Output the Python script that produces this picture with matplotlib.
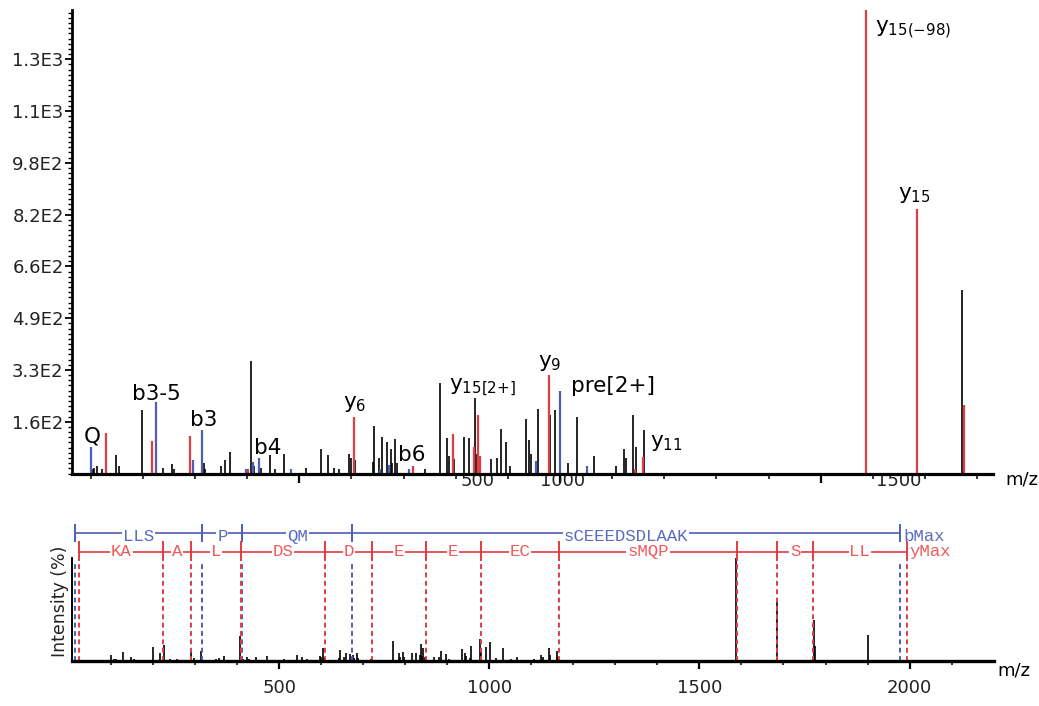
import matplotlib
matplotlib.use('Agg')
import matplotlib.pyplot as plt
from matplotlib.ticker import FixedLocator, MultipleLocator

plt.rcParams['font.family'] = ['DejaVu Sans']
plt.rcParams['mathtext.fontset'] = 'dejavusans'
plt.rcParams['mathtext.default'] = 'regular'

# ---------------- data ----------------
black_mz = [105, 107, 111, 121, 148, 155, 199, 239, 256, 260, 317, 320, 349, 357, 368,
            407, 414, 427, 444, 453, 471, 512, 542, 555, 567, 577, 596, 600, 607,
            641, 644, 653, 659, 669, 676, 678, 684, 687, 742, 770, 784, 787, 797,
            815, 825, 837, 840, 868, 879, 886, 896, 904, 934, 941, 944, 957, 981,
            991, 1015, 1033, 1065, 1107, 1123, 1127, 1141, 1145, 1162, 1772, 1900]
black_int = [13, 18, 23, 13, 58, 23, 200, 18, 29, 15, 32, 13, 23, 42, 69,
             356, 25, 18, 58, 13, 63, 18, 79, 58, 18, 13, 63, 50, 44,
             36, 150, 50, 115, 99, 78, 32, 110, 34, 13, 287, 113, 55, 47,
             115, 113, 240, 63, 47, 50, 142, 99, 23, 174, 105, 63, 205, 185,
             200, 32, 180, 55, 23, 79, 50, 185, 84, 139, 581, 367]
red_mz = [129, 217, 290, 401, 604, 717.5, 794, 836, 843, 847, 978, 1144, 1160, 1587, 1685, 1774]
red_int = [129, 103, 119, 13, 180, 25, 124, 84, 185, 55, 311, 13, 53, 1468, 837, 217]
blue_mz = [100.5, 225, 297, 313.4, 397, 411, 423.5, 484, 655, 672, 710, 954, 1000.6, 1052]
blue_int = [84, 226, 44, 139, 13, 37, 48, 13, 13, 28, 13, 39, 261, 23]

ytick_values = [164, 328, 492, 656, 820, 984, 1148, 1312]
ytick_labels = ['1.6E2', '3.3E2', '4.9E2', '6.6E2', '8.2E2', '9.8E2', '1.1E3', '1.3E3']
top_xlabel_pos = [842.7, 1004, 1650]
top_xlabels = ['500', '1000', '1500']

peak_labels = ['Q', 'b3-5', 'b3', 'b4', 'y$_{6}$', 'b6', 'y$_{15[2{+}]}$', 'y$_{9}$',
               'pre[2+]', 'y$_{11}$', 'y$_{15({-}98)}$', 'y$_{15}$']
peak_label_mz = [102, 225, 316, 440, 607, 715, 788, 980, 1020.5, 1172.6, 1604, 1649]
peak_label_y = [97, 233, 150, 62, 207, 41, 263, 338, 259, 83, 1394, 870]
peak_label_ha = ['center', 'center', 'center', 'center', 'center', 'center', 'left',
                 'center', 'left', 'left', 'left', 'left']

b_bounds = [14, 317, 412, 674, 1977]
b_labels = ['LLS', 'P', 'QM', 'sCEEEDSDLAAK']
y_bounds = [24, 224, 291, 409, 609, 721, 848, 979, 1166, 1589, 1685, 1770, 1993]
y_labels = ['KA', 'A', 'L', 'DS', 'D', 'E', 'E', 'EC', 'sMQP', '', 'S', 'LL']

RED = '#e23c42'
BLUE = '#4d5fb5'
TXT_RED = '#f05a5a'
TXT_BLUE = '#5a6cc0'

W, H = 1039, 706
fig = plt.figure(figsize=(W / 100, H / 100), dpi=100)


def box(l, t, r, b):
    return [l / W, 1 - b / H, (r - l) / W, (b - t) / H]


# ---------------- top panel ----------------
ax1 = fig.add_axes(box(72, 10, 992.7, 473.5))
ax1.vlines(black_mz, 0, black_int, colors='black', lw=1.2)
ax1.vlines(red_mz, 0, red_int, colors=RED, lw=1.6)
ax1.vlines(blue_mz, 0, blue_int, colors=BLUE, lw=1.6)
ax1.set_xlim(64, 1830)
ax1.set_ylim(0, 1468)
for s in ['top', 'right']:
    ax1.spines[s].set_visible(False)
ax1.spines['left'].set_linewidth(2.0)
ax1.spines['bottom'].set_linewidth(2.3)

ax1.yaxis.set_major_locator(FixedLocator(ytick_values))
ax1.set_yticklabels(ytick_labels, fontsize=13, color='#222222')
ax1.yaxis.set_minor_locator(MultipleLocator(16.4))
ax1.tick_params(axis='y', which='major', length=5, width=1.3, pad=1)
ax1.tick_params(axis='y', which='minor', length=3, width=1.0)

ax1.set_xticks(top_xlabel_pos)
ax1.set_xticklabels(top_xlabels, fontsize=13, color='#222222')
ax1.tick_params(axis='x', which='major', length=0, pad=-1)
ax1.xaxis.set_minor_locator(FixedLocator(list(range(100, 1900, 100))))
ax1.tick_params(axis='x', which='minor', length=3.5, width=1.1)
sec = ax1.secondary_xaxis('bottom')
sec.set_xticks([500, 1000, 1500])
sec.tick_params(length=6.5, width=1.6, labelbottom=False)
sec.spines['bottom'].set_visible(False)
ax1.text(1.0134, -0.014, 'm/z', transform=ax1.transAxes, ha='left', va='center', fontsize=13)

for lab, m, yv, ha in zip(peak_labels, peak_label_mz, peak_label_y, peak_label_ha):
    ax1.text(m, yv, lab, ha=ha, va='baseline', fontsize=15.5, color='black')

# ---------------- bottom panel ----------------
ax2 = fig.add_axes(box(72, 515, 994, 660.7))
imax = max(red_int + black_int + blue_int)
all_mz = black_mz + red_mz + blue_mz
all_int = [v / imax * 100 for v in black_int + red_int + blue_int]
ax2.vlines(all_mz, 0, all_int, colors='black', lw=1.2)
ax2.set_xlim(6.6, 2201)
ax2.set_ylim(0, 141.9)
for s in ['top', 'right']:
    ax2.spines[s].set_visible(False)
ax2.spines['left'].set_bounds(0, 100)
ax2.spines['left'].set_linewidth(1.4)
ax2.spines['bottom'].set_linewidth(2.4)
ax2.set_yticks([])
ax2.set_xticks([500, 1000, 1500, 2000])
ax2.set_xticklabels(['500', '1000', '1500', '2000'], fontsize=13, color='#222222')
ax2.xaxis.set_minor_locator(FixedLocator(list(range(100, 2200, 100))))
ax2.tick_params(axis='x', which='major', length=6, width=1.6, pad=7)
ax2.tick_params(axis='x', which='minor', length=3, width=1.1)
ax2.text(1.0033, -0.064, 'm/z', transform=ax2.transAxes, ha='left', va='center', fontsize=13)

# sequence ladders
ax2.hlines(124.4, b_bounds[0], b_bounds[-1], color=BLUE, lw=1.2)
ax2.vlines(b_bounds, 115.6, 133.1, color=BLUE, lw=1.4)
ax2.vlines(b_bounds, 0, 96, color=BLUE, lw=1.4, linestyles=(0, (2.5, 1.8)))
ax2.hlines(105.9, y_bounds[0], y_bounds[-1], color=RED, lw=1.2)
ax2.vlines(y_bounds, 97.1, 116.6, color=RED, lw=1.4)
ax2.vlines(y_bounds, 0, 96, color=RED, lw=1.4, linestyles=(0, (2.5, 1.8)))

bb = dict(facecolor='white', edgecolor='none', pad=0.6)
for a, b, lab in zip(b_bounds[:-1], b_bounds[1:], b_labels):
    ax2.text((a + b) / 2, 120.5, lab, ha='center', va='center', fontsize=12.5,
             family='Liberation Mono', color=TXT_BLUE, bbox=bb)
ax2.text(b_bounds[-1] + 8, 120.5, 'bMax', ha='left', va='center', fontsize=12.5,
         family='Liberation Mono', color=TXT_BLUE)
for a, b, lab in zip(y_bounds[:-1], y_bounds[1:], y_labels):
    if lab:
        ax2.text((a + b) / 2, 106.5, lab, ha='center', va='center', fontsize=12.5,
                 family='Liberation Mono', color=TXT_RED, bbox=bb)
ax2.text(y_bounds[-1] + 8, 106.5, 'yMax', ha='left', va='center', fontsize=12.5,
         family='Liberation Mono', color=TXT_RED)

fig.text(60 / W, 1 - 601 / H, 'Intensity (%)', rotation=90, ha='center', va='center',
         fontsize=12.5, color='#222222')

fig.savefig('out.png', dpi=100)
